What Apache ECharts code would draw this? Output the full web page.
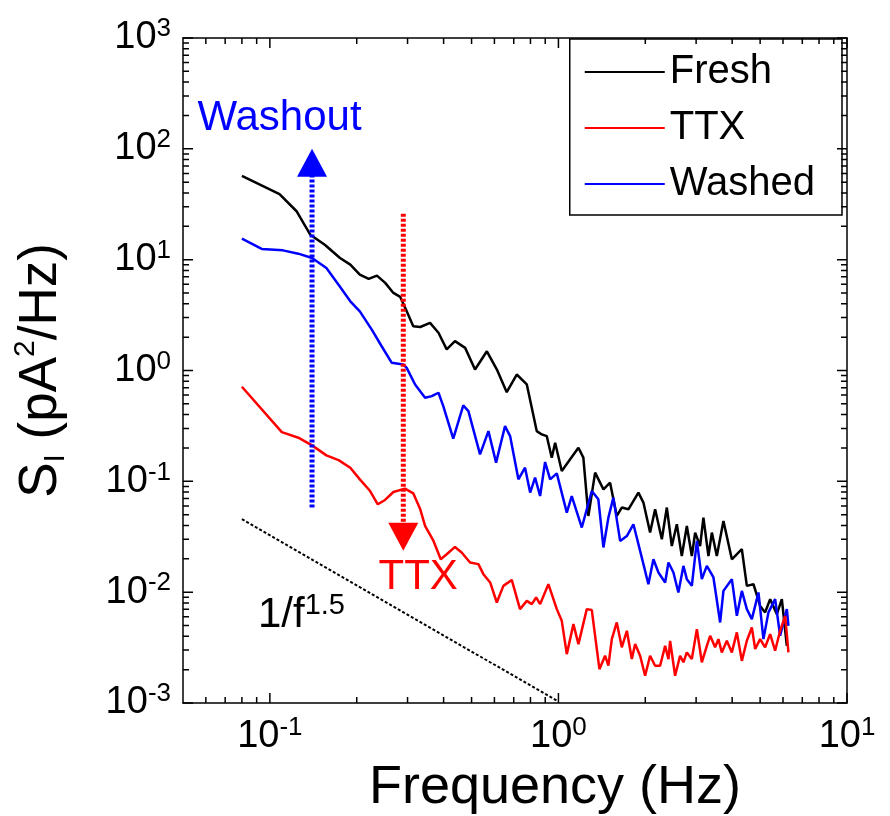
<!DOCTYPE html>
<html><head><meta charset="utf-8">
<script src="https://cdn.jsdelivr.net/npm/echarts@6/dist/echarts.min.js"></script>
<style>html,body{margin:0;padding:0;background:#fff}#c{width:890px;height:816px}</style>
</head><body><div id="c"></div>
<script>
const FONT = '"Liberation Sans", Arial, sans-serif';

// Axis ranges and tick label exponents (labels read as 10^n)
const X_MIN = 0.05, X_MAX = 10, Y_MIN = 0.001, Y_MAX = 1000;
const xTickExponents = [-1, 0, 1];
const yTickExponents = [-3, -2, -1, 0, 1, 2, 3];
const minorMultipliers = [2, 3, 4, 5, 6, 7, 8, 9];

// Series: [frequency (Hz), S_I (pA^2/Hz)]
const freshData = [[0.08,57.1],[0.108,39.1],[0.124,27.2],[0.138,16.8],[0.155,13.65],[0.175,10.36],[0.19,9.02],[0.205,7.33],[0.22,6.70],[0.235,7.18],[0.251,6.17],[0.268,5.01],[0.283,4.61],[0.298,3.42],[0.314,2.51],[0.332,2.47],[0.359,2.69],[0.384,2.19],[0.41,1.55],[0.438,1.84],[0.475,1.60],[0.514,1.02],[0.565,1.49],[0.612,1.02],[0.662,0.637],[0.717,0.92],[0.777,0.748],[0.841,0.284],[0.876,0.265],[0.911,0.256],[0.948,0.1635],[0.974,0.223],[1.027,0.1238],[1.098,0.158],[1.173,0.201],[1.22,0.1635],[1.27,0.0487],[1.34,0.1198],[1.432,0.0847],[1.51,0.0973],[1.593,0.0487],[1.658,0.058],[1.748,0.0559],[1.893,0.0791],[1.97,0.0643],[2.078,0.0345],[2.163,0.0559],[2.282,0.030],[2.375,0.058],[2.471,0.0261],[2.572,0.041],[2.676,0.0212],[2.786,0.0396],[2.899,0.0212],[2.977,0.0345],[3.097,0.0261],[3.18,0.0471],[3.31,0.0212],[3.402,0.0345],[3.539,0.0212],[3.731,0.0439],[3.99,0.0198],[4.321,0.0244],[4.497,0.0114],[4.741,0.0118],[5.0,0.00752],[5.203,0.00657],[5.416,0.00865],[5.714,0.00633],[5.945,0.00865],[6.187,0.00328]];

const washedData = [[0.08,15.46],[0.0937,12.49],[0.111,12.13],[0.1255,11.33],[0.14,10.36],[0.157,8.42],[0.173,5.95],[0.19,4.21],[0.205,3.42],[0.2255,2.34],[0.244,1.655],[0.2645,1.173],[0.29,1.133],[0.298,1.057],[0.3186,0.748],[0.345,0.568],[0.364,0.587],[0.384,0.63],[0.399,0.477],[0.432,0.2425],[0.468,0.484],[0.4875,0.43],[0.535,0.175],[0.572,0.284],[0.608,0.1474],[0.653,0.315],[0.68,0.256],[0.7265,0.1042],[0.766,0.1328],[0.798,0.0791],[0.83,0.108],[0.864,0.0737],[0.899,0.1493],[0.936,0.1042],[0.987,0.118],[1.069,0.0522],[1.112,0.0737],[1.205,0.0383],[1.305,0.0818],[1.375,0.0688],[1.432,0.0253],[1.49,0.0471],[1.55,0.0713],[1.636,0.029],[1.726,0.0321],[1.819,0.041],[1.945,0.0205],[2.05,0.0118],[2.134,0.0198],[2.221,0.01505],[2.343,0.01223],[2.406,0.0185],[2.503,0.01505],[2.604,0.00994],[2.711,0.01725],[2.786,0.0131],[2.899,0.0114],[3.018,0.029],[3.14,0.0131],[3.268,0.01725],[3.445,0.01357],[3.634,0.00533],[3.731,0.01027],[3.99,0.0131],[4.152,0.00612],[4.321,0.01027],[4.497,0.00703],[4.68,0.00571],[4.934,0.00994],[5.133,0.00377],[5.343,0.00657],[5.636,0.00865],[5.865,0.00404],[6.187,0.00703],[6.267,0.00497]];

const ttxData = [[0.08,0.713],[0.11,0.278],[0.1255,0.2475],[0.14,0.211],[0.157,0.1715],[0.173,0.1555],[0.19,0.1328],[0.205,0.1042],[0.2225,0.0818],[0.2366,0.0621],[0.2507,0.0679],[0.268,0.0801],[0.294,0.0859],[0.314,0.078],[0.332,0.0559],[0.345,0.0396],[0.369,0.029],[0.391,0.0198],[0.41,0.022],[0.438,0.0256],[0.462,0.0228],[0.494,0.0185],[0.528,0.0179],[0.5495,0.01453],[0.58,0.01223],[0.6115,0.00807],[0.6445,0.0114],[0.689,0.0129],[0.736,0.00703],[0.777,0.00835],[0.8085,0.0078],[0.837,0.00896],[0.864,0.0078],[0.923,0.0118],[0.987,0.00703],[1.027,0.00551],[1.069,0.00276],[1.127,0.00515],[1.173,0.0034],[1.254,0.00703],[1.305,0.00689],[1.387,0.00202],[1.451,0.00267],[1.49,0.00217],[1.531,0.00377],[1.593,0.00533],[1.658,0.00318],[1.726,0.00448],[1.796,0.00249],[1.844,0.0034],[1.919,0.00267],[1.997,0.00176],[2.078,0.00267],[2.163,0.00217],[2.251,0.00217],[2.343,0.00328],[2.406,0.00249],[2.438,0.00364],[2.537,0.00176],[2.64,0.00267],[2.711,0.00233],[2.786,0.00286],[2.899,0.00249],[3.018,0.00464],[3.14,0.00233],[3.268,0.00328],[3.356,0.00404],[3.491,0.00318],[3.584,0.00377],[3.683,0.00286],[3.833,0.00364],[3.99,0.00286],[4.152,0.00434],[4.321,0.0024],[4.497,0.00364],[4.68,0.00481],[4.806,0.00307],[5.0,0.00377],[5.203,0.00318],[5.416,0.00418],[5.636,0.00296],[5.865,0.00448],[6.105,0.00612],[6.267,0.00286]];

// Reference slope line 1/f^1.5 endpoints
const slopeLine = [[0.08, 0.0455], [1.0, 0.00103]];
// Annotation arrows: shaft endpoints and head position
const washoutShaft = [[0.14, 0.058], [0.14, 60]];
const washoutHead = [[0.14, 75]];
const ttxShaft = [[0.29, 26], [0.29, 0.036]];
const ttxHead = [[0.29, 0.0316]];
// Annotation text anchors
const washoutTextPos = [[0.108, 190]];
const ttxTextPos = [[0.3265, 0.01365]];
const slopeTextPos = [[0.1287, 0.0062]];

// Layout
const W = 890, H = 816, GL = 183, GR = 43, GT = 38, GB = 113;
const MAJOR_LEN = 10, MINOR_LEN = 6;

// Inward box ticks, drawn as short segments of a line series in data space
function tickList(lo, hi) {
  const out = [];
  for (let e = Math.floor(Math.log10(lo)); e <= Math.ceil(Math.log10(hi)); e++) {
    const d = Math.pow(10, e);
    if (d >= lo * 0.9999 && d <= hi * 1.0001) out.push([d, MAJOR_LEN]);
    minorMultipliers.forEach(m => { const v = m * d; if (v > lo && v < hi) out.push([v, MINOR_LEN]); });
  }
  return out;
}
function tickSegments() {
  const xPxPerDecade = (W - GL - GR) / Math.log10(X_MAX / X_MIN);
  const yPxPerDecade = (H - GT - GB) / Math.log10(Y_MAX / Y_MIN);
  const d = [];
  tickList(X_MIN, X_MAX).forEach(t => {
    const f = Math.pow(10, t[1] / yPxPerDecade);
    d.push([t[0], Y_MIN], [t[0], Y_MIN * f], [t[0], '-'], [t[0], Y_MAX], [t[0], Y_MAX / f], [t[0], '-']);
  });
  tickList(Y_MIN, Y_MAX).forEach(t => {
    const f = Math.pow(10, t[1] / xPxPerDecade);
    d.push([X_MIN, t[0]], [X_MIN * f, t[0]], ['-', t[0]], [X_MAX, t[0]], [X_MAX / f, t[0]], ['-', t[0]]);
  });
  return d;
}

function expLabel(list) {
  return function (v) {
    const e = Math.log10(v), r = Math.round(e);
    if (Math.abs(e - r) > 1e-6 || list.indexOf(r) < 0) return '';
    return '{b|10}{s|' + r + '}';
  };
}
const labelRich = {
  b: {fontSize: 38, lineHeight: 44, fontFamily: FONT, color: '#000'},
  s: {fontSize: 26, lineHeight: 8, verticalAlign: 'top', fontFamily: FONT, color: '#000'}
};
function axisBase(extra) {
  return Object.assign({
    type: 'log',
    axisLine: {show: true, lineStyle: {color: '#000', width: 1.5}},
    axisTick: {show: false},
    minorTick: {show: false},
    splitLine: {show: false}
  }, extra);
}
const plain = {opacity: 1};

const chart = echarts.init(document.getElementById('c'));
chart.setOption({
  animation: false,
  grid: {left: GL, right: GR, top: GT, bottom: GB, outerBoundsMode: 'none'},
  legend: {
    data: ['Fresh', 'TTX', 'Washed'], orient: 'vertical', right: 48, top: 39,
    icon: 'rect', itemWidth: 80, itemHeight: 2, itemGap: 10, padding: [10, 27, 8, 15],
    borderColor: '#000', borderWidth: 1.5, backgroundColor: '#fff', borderRadius: 0,
    textStyle: {fontSize: 40, lineHeight: 46, color: '#000', fontFamily: FONT}
  },
  xAxis: [
    axisBase({position: 'bottom', min: X_MIN, max: X_MAX,
      axisLabel: {show: true, margin: 12, formatter: expLabel(xTickExponents), rich: labelRich},
      name: 'Frequency (Hz)', nameLocation: 'middle', nameGap: 58,
      nameTextStyle: {fontSize: 54, color: '#000', fontFamily: FONT, padding: [0, 0, 0, 80]}}),
    axisBase({position: 'top', min: X_MIN, max: X_MAX, axisLabel: {show: false}})
  ],
  yAxis: [
    axisBase({position: 'left', min: Y_MIN, max: Y_MAX,
      axisLabel: {show: true, margin: 12, formatter: expLabel(yTickExponents), rich: labelRich},
      name: '{m|S}{sub|I}{m| (pA}{sup|2}{m|/Hz)}', nameLocation: 'middle', nameGap: 112,
      nameTextStyle: {fontFamily: FONT, color: '#000', rich: {
        m: {fontSize: 53, lineHeight: 60, fontFamily: FONT, color: '#000'},
        sub: {fontSize: 30, lineHeight: 14, verticalAlign: 'bottom', fontFamily: FONT, color: '#000'},
        sup: {fontSize: 30, lineHeight: 12, verticalAlign: 'top', fontFamily: FONT, color: '#000'}
      }}}),
    axisBase({position: 'right', min: Y_MIN, max: Y_MAX, axisLabel: {show: false}})
  ],
  series: [
    {name: 'Fresh', type: 'line', data: freshData, symbol: 'none',
      lineStyle: {color: '#000000', width: 2.5}, itemStyle: {color: '#000000'}},
    {name: 'Washed', type: 'line', data: washedData, symbol: 'none',
      lineStyle: {color: '#0000ff', width: 2.5}, itemStyle: {color: '#0000ff'}},
    {name: 'TTX', type: 'line', data: ttxData, symbol: 'none',
      lineStyle: {color: '#ff0000', width: 2.5}, itemStyle: {color: '#ff0000'}},
    {type: 'line', data: slopeLine, symbol: 'none',
      lineStyle: {color: '#000', width: 2, type: [3, 2]}},
    {type: 'line', data: washoutShaft, symbol: 'none', z: 5,
      lineStyle: {color: '#0000ff', width: 5, type: [3, 2]}},
    {type: 'scatter', data: washoutHead, symbol: 'triangle', symbolSize: [30, 28], z: 5,
      itemStyle: {color: '#0000ff', opacity: 1}},
    {type: 'line', data: ttxShaft, symbol: 'none', z: 5,
      lineStyle: {color: '#ff0000', width: 5, type: [3, 2]}},
    {type: 'scatter', data: ttxHead, symbol: 'triangle', symbolRotate: 180, symbolSize: [30, 28], z: 5,
      itemStyle: {color: '#ff0000', opacity: 1}},
    {type: 'scatter', data: washoutTextPos, symbolSize: 0, z: 6, itemStyle: plain,
      label: {show: true, position: 'inside', formatter: 'Washout', fontSize: 42, color: '#0000ff', opacity: 1, fontFamily: FONT}},
    {type: 'scatter', data: ttxTextPos, symbolSize: 0, z: 6, itemStyle: plain,
      label: {show: true, position: 'inside', formatter: 'TTX', fontSize: 42, color: '#ff0000', opacity: 1, fontFamily: FONT}},
    {type: 'scatter', data: slopeTextPos, symbolSize: 0, z: 6, itemStyle: plain,
      label: {show: true, position: 'inside', formatter: '{m|1/f}{s|1.5}', opacity: 1, rich: {
        m: {fontSize: 42, lineHeight: 48, color: '#000', fontFamily: FONT},
        s: {fontSize: 29, lineHeight: 10, verticalAlign: 'top', color: '#000', fontFamily: FONT}
      }}},
    {type: 'line', data: tickSegments(), symbol: 'none', connectNulls: false, clip: false, silent: true, z: 10,
      lineStyle: {color: '#000', width: 1.5}}
  ]
});
</script></body></html>
